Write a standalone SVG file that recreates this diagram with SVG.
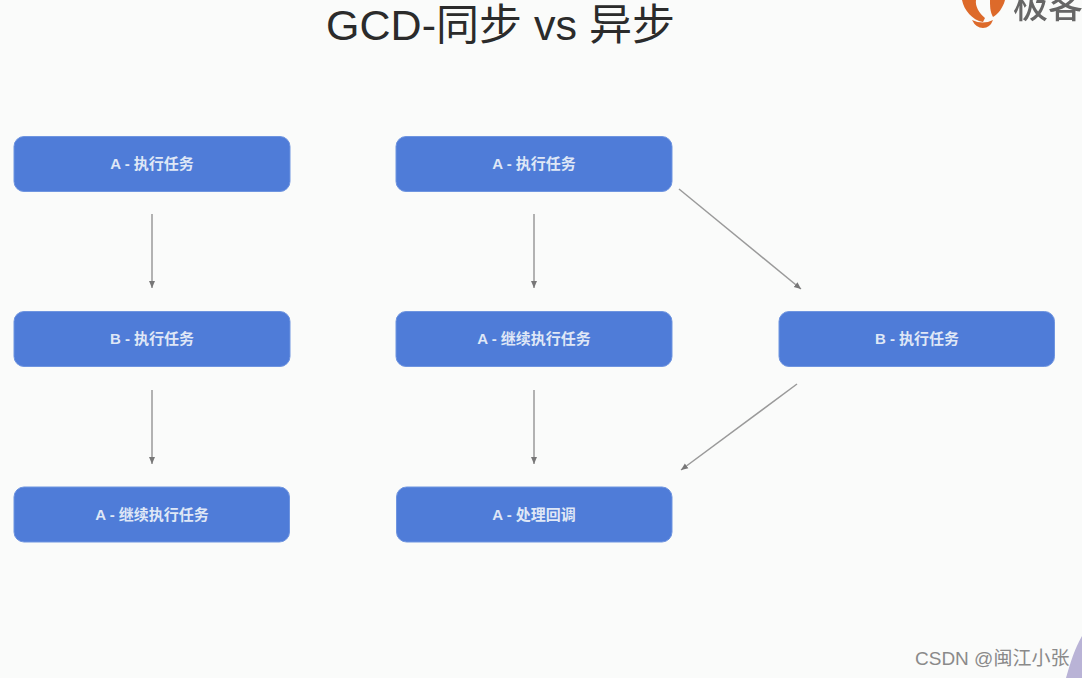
<svg xmlns="http://www.w3.org/2000/svg" width="1082" height="678" viewBox="0 0 1082 678">
<style>
.n{fill:#4f7cd8;stroke:#6f95e0;stroke-width:1}
.t{font-family:"Liberation Sans","Noto Sans CJK SC",sans-serif;font-size:15px;font-weight:700;fill:#dfe7f6;text-anchor:middle}
.c{stroke:#9a9a9a;stroke-width:1.5;fill:none;marker-end:url(#a)}
</style>
<defs>
<marker id="a" markerUnits="userSpaceOnUse" markerWidth="8" markerHeight="8" refX="7" refY="3.500" orient="auto"><path d="M0 0.500L7 3.500L0 6.500z" fill="#777"/></marker>
<filter id="b" x="-20%" y="-20%" width="140%" height="140%"><feGaussianBlur stdDeviation="0.7"/></filter>
</defs>
<rect width="1082" height="678" fill="#fafbfa"/>
<text x="500.500" y="40" font-family="'Liberation Sans','Noto Sans CJK SC',sans-serif" font-size="43" fill="#2b2b2b" text-anchor="middle">GCD-同步 vs 异步</text>
<g id="logo" filter="url(#b)">
<path d="M962 0H976C975 6 979 13 985 18L983 22C972 20 964 10 962 0Z" fill="#dd6a2c"/>
<path d="M990 0H1005C1003 8 998 14 993 17C990 12 990 6 990 0Z" fill="#dd6a2c"/>
<path d="M972 20Q983 25 993 20Q990 28 983 28Q976 28 972 20Z" fill="#dd6a2c"/>
<text x="1013" y="18" font-family="'Noto Sans CJK SC',sans-serif" font-size="35" font-weight="500" fill="#666">极客</text>
</g>
<g id="connectors">
<path class="c" d="M152 214V288"/>
<path class="c" d="M152 390V464"/>
<path class="c" d="M534 214V288"/>
<path class="c" d="M534 390V464"/>
<path class="c" d="M679 189L801 289"/>
<path class="c" d="M797 384L681 470"/>
</g>
<g id="n1"><rect class="n" x="14" y="136.500" width="276" height="55" rx="10"/><text class="t" x="152" y="169">A - 执行任务</text></g>
<g id="n2"><rect class="n" x="14" y="311.500" width="276" height="55" rx="10"/><text class="t" x="152" y="344">B - 执行任务</text></g>
<g id="n3"><rect class="n" x="14" y="487" width="275.500" height="55" rx="10"/><text class="t" x="152" y="520">A - 继续执行任务</text></g>
<g id="n4"><rect class="n" x="396" y="136.500" width="276" height="55" rx="10"/><text class="t" x="534" y="169">A - 执行任务</text></g>
<g id="n5"><rect class="n" x="396" y="311.500" width="276" height="55" rx="10"/><text class="t" x="534" y="344">A - 继续执行任务</text></g>
<g id="n6"><rect class="n" x="396.500" y="487" width="275.500" height="55" rx="10"/><text class="t" x="534" y="520">A - 处理回调</text></g>
<g id="n7"><rect class="n" x="779" y="311.500" width="275.500" height="55" rx="10"/><text class="t" x="917" y="344">B - 执行任务</text></g>
<path d="M1082 636C1074 650 1070 664 1066 678H1082Z" fill="#b9b3d6" filter="url(#b)"/>
<text x="915" y="665" font-family="'Liberation Sans','Noto Sans CJK SC',sans-serif" font-size="19" fill="#8a8a8a">CSDN @闽江小张</text>
</svg>
